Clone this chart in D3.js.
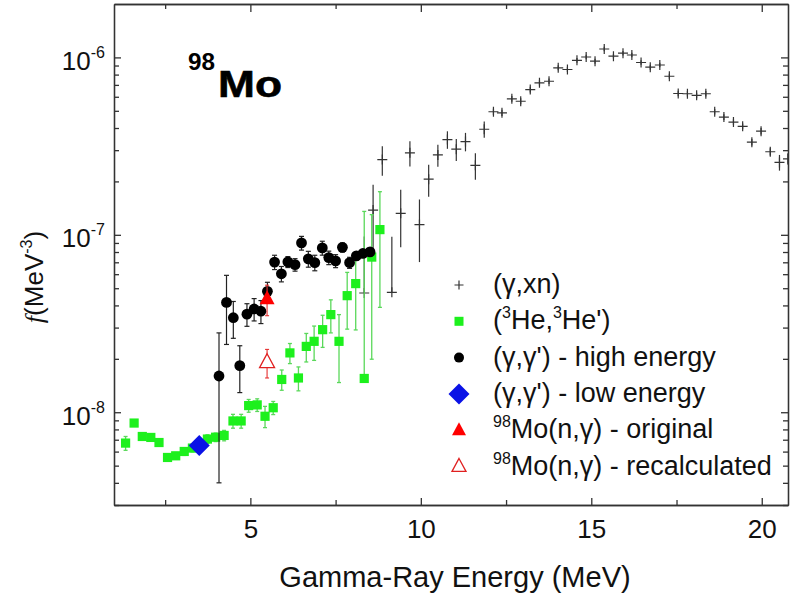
<!DOCTYPE html>
<html>
<head>
<meta charset="utf-8">
<script src="https://cdnjs.cloudflare.com/ajax/libs/d3/7.8.5/d3.min.js"></script>
<style>
  body { margin: 0; background: #fff; }
  svg { display: block; font-family: "Liberation Sans", Arial, sans-serif; }
  .axis path, .axis line { stroke: #333; stroke-width: 1.3; fill: none; }
</style>
</head>
<body>
<script>
// All strength values below are in units of 1e-9 MeV^-3
const UNIT = 1e-9;

// (gamma,xn)
const xnE = [8.34, 8.60, 8.87, 9.15, 9.41, 9.68, 9.96, 10.23, 10.50, 10.78, 11.04, 11.31, 11.60, 11.86,
  12.13, 12.38, 12.67, 12.93, 13.21, 13.48, 13.76, 14.03, 14.30, 14.58, 14.85, 15.11, 15.38, 15.65,
  15.93, 16.19, 16.46, 16.73, 17.01, 17.29, 17.55, 17.82, 18.09, 18.36, 18.62, 18.89, 19.17, 19.44,
  19.71, 19.98, 20.25, 20.52, 20.77];
const xnF = [47.0, 137.8, 265.6, 47.4, 132.2, 289.7, 114.2, 205.9, 282.2, 344.3, 303.9, 335.5, 246.6, 393.6,
  494, 487, 584, 566, 659, 719, 734, 874, 855, 963, 1005, 952, 1115, 1016,
  1056, 1032, 936, 881, 906, 783, 626, 624, 611, 624, 494, 461, 432, 409,
  333, 384, 294, 256, 268];
const xnErr = [51, 54, 50, 50, 47, 47, 44, 42, 40, 39, 43, 40, 42, 41,
  20, 20, 22, 22, 24, 25, 26, 28, 28, 30, 30, 30, 32, 30,
  30, 30, 28, 28, 27, 25, 22, 22, 22, 22, 18, 17, 16, 15,
  14, 16, 14, 26, 20];

// (3He,3He')
const heE = [1.34, 1.59, 1.83, 2.08, 2.32, 2.57, 2.81, 3.06, 3.30, 3.52, 3.74, 3.98, 4.23, 4.49, 4.73,
  4.95, 5.20, 5.43, 5.67, 5.92, 6.16, 6.41, 6.64, 6.87, 7.12, 7.36, 7.60, 7.84, 8.09, 8.34, 8.56, 8.80];
const heF = [6.70, 8.69, 7.30, 7.21, 6.75, 5.56, 5.68, 6.01, 6.28, 6.55, 7.06, 7.23, 7.40, 8.93, 8.93,
  10.9, 11.0, 9.49, 10.6, 15.3, 21.6, 15.6, 23.5, 25.1, 29.2, 35.5, 25.1, 45.4, 53.1, 15.5, 74.9, 107];
const heErr = [0.6, 0.3, 0.3, 0.3, 0.3, 0.25, 0.25, 0.3, 0.3, 0.3, 0.4, 0.4, 0.5, 0.8, 0.8,
  0.9, 0.9, 1.3, 0.9, 2.0, 2.8, 2.4, 4.3, 5.5, 6.0, 7.5, 10.4, 16, 24, 120, 55, 68];

// (gamma,gamma') - high energy
const ggE = [4.08, 4.30, 4.50, 4.69, 4.90, 5.11, 5.31, 5.50, 5.71, 5.91, 6.10, 6.31, 6.50, 6.70,
  6.89, 7.11, 7.30, 7.50, 7.70, 7.91, 8.11, 8.30, 8.51];
const ggF = [16.0, 41.6, 34.1, 18.3, 35.7, 38.2, 37.1, 48.0, 70.2, 60.3, 70.4, 67.9, 90.0, 73.2,
  69.7, 84.4, 74.4, 71.3, 85.0, 69.7, 76.1, 78.5, 80.1];
const ggErr = [12, 17.5, 8, 5.4, 5.2, 5.5, 5.5, 6, 6.5, 6, 5, 5.5, 8, 7.5,
  7, 7.6, 6.5, 6, 5, 5, 4, 4, 4];

// (gamma,gamma') - low energy
const lowE = [3.50];
const lowF = [6.50];

// 98Mo(n,gamma) original / recalculated
const ngOrigE = [5.49], ngOrigF = [43.5], ngOrigErr = [8.5];
const ngRecE = [5.49], ngRecF = [19.1], ngRecErr = [3.5];

const xMajor = [5, 10, 15, 20];
const xMinor = [2.5, 7.5, 12.5, 17.5];
const yMajor = [1e-8, 1e-7, 1e-6];
const yMajorExp = ["-8", "-7", "-6"];

const margin = { top: 4, right: 2, bottom: 91, left: 114 };
const width = 790 - margin.left - margin.right;
const height = 596 - margin.top - margin.bottom;

const svg = d3.select("body").append("svg")
  .attr("width", 790).attr("height", 596);

const g = svg.append("g").attr("transform", `translate(${margin.left},${margin.top})`);

const x = d3.scaleLinear().domain([1, 20.77]).range([0, width]);
const y = d3.scaleLog().domain([3e-9, 2e-6]).range([height, 0]);

const yMinor = [];
[1e-9, 1e-8, 1e-7, 1e-6].forEach(d => {
  for (let k = 2; k <= 9; k++) {
    const v = k * d;
    if (v > 3e-9 && v < 2e-6) yMinor.push(v);
  }
});

// Axes, ticks pointing into the plot on all four sides
function axisPair(makeAxis, transform, major, minor, majSize, minSize) {
  g.append("g").attr("class", "axis").attr("transform", transform)
    .call(makeAxis().tickValues(minor).tickSize(minSize).tickSizeOuter(0).tickFormat(""));
  return g.append("g").attr("class", "axis").attr("transform", transform)
    .call(makeAxis().tickValues(major).tickSize(majSize).tickSizeOuter(0).tickFormat(""));
}

const xBottom = axisPair(() => d3.axisBottom(x), `translate(0,${height})`, xMajor, xMinor, -7, -5);
axisPair(() => d3.axisTop(x), "translate(0,0)", xMajor, xMinor, -8, -5);
const yLeft = axisPair(() => d3.axisLeft(y), "translate(0,0)", yMajor, yMinor, -7, -5);
axisPair(() => d3.axisRight(y), `translate(${width},0)`, yMajor, yMinor, -7, -5);

// x tick labels
xBottom.selectAll(".tick").append("text")
  .attr("y", 33).attr("text-anchor", "middle")
  .attr("fill", "#111").attr("font-size", 26)
  .text(d => d);

// y tick labels with superscript exponents
yLeft.selectAll(".tick").each(function (d, i) {
  const t = d3.select(this).append("text")
    .attr("x", -9).attr("y", 12).attr("text-anchor", "end")
    .attr("fill", "#111").attr("font-size", 26);
  t.append("tspan").text("10");
  t.append("tspan").attr("dy", -12).attr("font-size", 16).text(yMajorExp[i]);
});

// Axis titles
svg.append("text")
  .attr("x", 455).attr("y", 587).attr("text-anchor", "middle")
  .attr("font-size", 29).attr("fill", "#111")
  .text("Gamma-Ray Energy (MeV)");

const yTitle = svg.append("text")
  .attr("transform", "translate(43,277) rotate(-90)")
  .attr("text-anchor", "middle").attr("font-size", 26).attr("fill", "#111");
yTitle.append("tspan").attr("font-style", "italic").attr("font-family", "'Liberation Serif', serif").text("f");
yTitle.append("tspan").text("(MeV");
yTitle.append("tspan").attr("dy", -11).attr("font-size", 16).text("-3");
yTitle.append("tspan").attr("dy", 11).text(")");

// Nucleus label
svg.append("text").attr("x", 188).attr("y", 70)
  .attr("font-size", 23).attr("font-weight", "bold").attr("fill", "#000")
  .attr("textLength", 27).attr("lengthAdjust", "spacingAndGlyphs").text("98");
svg.append("text").attr("x", 218).attr("y", 97)
  .attr("font-size", 37).attr("font-weight", "bold").attr("fill", "#000")
  .attr("stroke", "#000").attr("stroke-width", 0.6)
  .attr("textLength", 64).attr("lengthAdjust", "spacingAndGlyphs").text("Mo");

// Plot area clip
svg.append("clipPath").attr("id", "plotClip")
  .append("rect").attr("width", width).attr("height", height);
const plot = g.append("g").attr("clip-path", "url(#plotClip)");

function rows(E, F, err) {
  return E.map((e, i) => ({ e: e, v: F[i] * UNIT, d: err ? err[i] * UNIT : 0 }));
}

// vertical error bars; the lower half is left out when it would fall below zero
function errorBars(data, color, cap, sw) {
  const eg = plot.append("g").attr("stroke", color).attr("stroke-width", sw);
  data.filter(p => p.d > 0).forEach(p => {
    const cx = x(p.e);
    const top = y(p.v + p.d);
    const bot = p.v - p.d > 0 ? y(p.v - p.d) : y(p.v);
    eg.append("line").attr("x1", cx).attr("x2", cx).attr("y1", top).attr("y2", bot);
    if (cap > 0) {
      eg.append("line").attr("x1", cx - cap).attr("x2", cx + cap).attr("y1", top).attr("y2", top);
      if (p.v - p.d > 0)
        eg.append("line").attr("x1", cx - cap).attr("x2", cx + cap).attr("y1", bot).attr("y2", bot);
    }
  });
}

const xnData = rows(xnE, xnF, xnErr);
const heData = rows(heE, heF, heErr);
const ggData = rows(ggE, ggF, ggErr);
const lowData = rows(lowE, lowF);
const origData = rows(ngOrigE, ngOrigF, ngOrigErr);
const recData = rows(ngRecE, ngRecF, ngRecErr);

const crossPath = "M-5,0H5M0,-5V5";
const diamondPath = s => `M0,${-s}L${s},0L0,${s}L${-s},0Z`;
const triPath = (w, h) => `M0,${-h * 0.62}L${w / 2},${h * 0.38}L${-w / 2},${h * 0.38}Z`;

// (gamma,xn)
errorBars(xnData, "#333", 0, 1.2);
plot.append("g").selectAll("path").data(xnData).enter().append("path")
  .attr("transform", d => `translate(${x(d.e)},${y(d.v)})`)
  .attr("d", crossPath).attr("stroke", "#333").attr("stroke-width", 1.2).attr("fill", "none");

// (3He,3He')
errorBars(heData, "#5ad85a", 2, 1.3);
plot.append("g").selectAll("rect").data(heData).enter().append("rect")
  .attr("x", d => x(d.e) - 4.6).attr("y", d => y(d.v) - 4.6)
  .attr("width", 9.2).attr("height", 9.2).attr("fill", "#1df01d");

// (gamma,gamma') high energy
errorBars(ggData, "#222", 2.5, 1.2);
plot.append("g").selectAll("circle").data(ggData).enter().append("circle")
  .attr("cx", d => x(d.e)).attr("cy", d => y(d.v)).attr("r", 5.4).attr("fill", "#000");

// (gamma,gamma') low energy
plot.append("g").selectAll("path").data(lowData).enter().append("path")
  .attr("transform", d => `translate(${x(d.e)},${y(d.v)})`)
  .attr("d", diamondPath(10.5)).attr("fill", "#0a12e6");

// 98Mo(n,gamma)
errorBars(origData, "#e53030", 2, 1.1);
plot.append("g").selectAll("path").data(origData).enter().append("path")
  .attr("transform", d => `translate(${x(d.e)},${y(d.v)})`)
  .attr("d", triPath(15, 14)).attr("fill", "#ff0000");
errorBars(recData, "#e53030", 2, 1.1);
plot.append("g").selectAll("path").data(recData).enter().append("path")
  .attr("transform", d => `translate(${x(d.e)},${y(d.v)})`)
  .attr("d", triPath(15, 14)).attr("fill", "#fff").attr("stroke", "#e02020").attr("stroke-width", 1.3);

// Legend
const legendItems = [
  { key: "xn", parts: [["", "(\u03b3,xn)"]] },
  { key: "he", parts: [["", "("], ["sup", "3"], ["", "He,"], ["sup", "3"], ["", "He')"]] },
  { key: "gh", parts: [["", "(\u03b3,\u03b3') - high energy"]] },
  { key: "gl", parts: [["", "(\u03b3,\u03b3') - low energy"]] },
  { key: "no", parts: [["sup", "98"], ["", "Mo(n,\u03b3) - original"]] },
  { key: "nr", parts: [["sup", "98"], ["", "Mo(n,\u03b3) - recalculated"]] }
];

const legend = svg.append("g");
legendItems.forEach((item, i) => {
  const by = 293 + i * 36.3;
  const sy = by - 8;
  const sx = 459;
  if (item.key === "xn") {
    legend.append("path").attr("transform", `translate(${sx},${sy})`).attr("d", "M-4.5,0H4.5M0,-4.5V4.5")
      .attr("stroke", "#333").attr("stroke-width", 1.2);
  } else if (item.key === "he") {
    legend.append("rect").attr("x", sx - 4.5).attr("y", sy - 4.5).attr("width", 9).attr("height", 9).attr("fill", "#1df01d");
  } else if (item.key === "gh") {
    legend.append("circle").attr("cx", sx).attr("cy", sy).attr("r", 5).attr("fill", "#000");
  } else if (item.key === "gl") {
    legend.append("path").attr("transform", `translate(${sx},${sy})`).attr("d", diamondPath(10.5)).attr("fill", "#0a12e6");
  } else if (item.key === "no") {
    legend.append("path").attr("transform", `translate(${sx},${sy})`).attr("d", triPath(14, 13)).attr("fill", "#ff0000");
  } else {
    legend.append("path").attr("transform", `translate(${sx},${sy})`).attr("d", triPath(14, 13))
      .attr("fill", "#fff").attr("stroke", "#e02020").attr("stroke-width", 1.3);
  }
  const t = legend.append("text").attr("x", 493).attr("y", by).attr("font-size", 27).attr("fill", "#111");
  let raised = false;
  item.parts.forEach(([kind, str]) => {
    const ts = t.append("tspan").text(str);
    if (kind === "sup") { ts.attr("dy", raised ? 0 : -11).attr("font-size", 16); raised = true; }
    else if (raised) { ts.attr("dy", 11); raised = false; }
  });
});
</script>
</body>
</html>
